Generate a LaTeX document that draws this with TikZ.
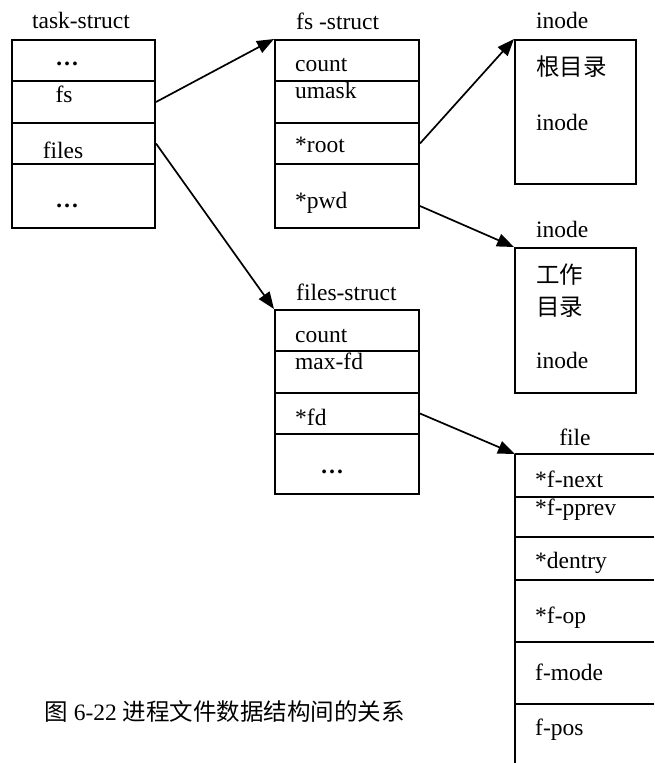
\documentclass[tikz,border=0pt]{standalone}
\usepackage{fontspec}
\setmainfont{Liberation Serif}
\newfontfamily\cjk{Noto Sans CJK SC}
\usetikzlibrary{arrows.meta}
\begin{document}
\begin{tikzpicture}[x=1pt,y=-1pt,
  rowbox/.style={draw, line width=2pt, inner sep=0pt, anchor=north west},
  lbl/.style={inner sep=0pt, anchor=base west, font=\fontsize{23.5}{28}\selectfont},
  clbl/.style={lbl, anchor=base},
  arr/.style={line width=1.7pt, -{Triangle[length=17pt,width=13pt]}},
  fline/.style={line width=2pt}]
\useasboundingbox (0,0) rectangle (654,763);

% task-struct
\node[clbl] (ttitle) at (81,28) {task-struct};
\node[rowbox, minimum width=143pt, minimum height=41pt] (t1) at (11,39) {};
\node[rowbox, minimum width=143pt, minimum height=42pt] (t2) at (11,80) {};
\node[rowbox, minimum width=143pt, minimum height=41pt] (t3) at (11,122) {};
\node[rowbox, minimum width=143pt, minimum height=64pt] (t4) at (11,163) {};
\node[clbl] (tdots1) at (67,65) {\textbf{…}};
\node[clbl] (tfs) at (64,102) {fs};
\node[clbl] (tfiles) at (63,158) {files};
\node[clbl] (tdots2) at (67,207) {\textbf{…}};

% fs-struct
\node[lbl] (ftitle) at (296,29) {fs -struct};
\node[rowbox, minimum width=144pt, minimum height=41pt] (f1) at (274,39) {};
\node[rowbox, minimum width=144pt, minimum height=42pt] (f2) at (274,80) {};
\node[rowbox, minimum width=144pt, minimum height=41pt] (f3) at (274,122) {};
\node[rowbox, minimum width=144pt, minimum height=64pt] (f4) at (274,163) {};
\node[lbl] (fcount) at (295,71) {count};
\node[lbl] (fumask) at (295,98) {umask};
\node[lbl] (froot) at (295,152) {*root};
\node[lbl] (fpwd) at (295,208) {*pwd};

% inode 1
\node[lbl] (i1title) at (536,28) {inode};
\node[rowbox, minimum width=121pt, minimum height=144pt] (in1) at (514,39) {};
\node[lbl] (i1a) at (536,75) {\cjk 根目录};
\node[lbl] (i1b) at (536,130) {inode};

% inode 2
\node[lbl] (i2title) at (536,237) {inode};
\node[rowbox, minimum width=121pt, minimum height=145pt] (in2) at (514,247) {};
\node[lbl] (i2a) at (536,283) {\cjk 工作};
\node[lbl] (i2b) at (536,315) {\cjk 目录};
\node[lbl] (i2c) at (536,368) {inode};

% files-struct
\node[lbl] (gtitle) at (296,300) {files-struct};
\node[rowbox, minimum width=144pt, minimum height=41pt] (g1) at (274,309) {};
\node[rowbox, minimum width=144pt, minimum height=42pt] (g2) at (274,350) {};
\node[rowbox, minimum width=144pt, minimum height=41pt] (g3) at (274,392) {};
\node[rowbox, minimum width=144pt, minimum height=60pt] (g4) at (274,433) {};
\node[lbl] (gcount) at (295,342) {count};
\node[lbl] (gmax) at (295,369) {max-fd};
\node[lbl] (gfd) at (295,425) {*fd};
\node[clbl] (gdots) at (332,473) {\textbf{…}};

% file (cut off at right and bottom)
\node[clbl] (etitle) at (575,445) {file};
\coordinate (filebox) at (515,454);
\coordinate (fileright) at (654,454);
\coordinate (filebottom) at (515,763);
\draw[fline] (filebox) -- (fileright);
\draw[fline] (filebox) -- (filebottom);
\foreach \yy in {497,537,580,642,704} \draw[fline] (515,\yy) -- (654,\yy);
\node[lbl] (e1) at (535,487) {*f-next};
\node[lbl] (e2) at (535,515) {*f-pprev};
\node[lbl] (e3) at (535,568) {*dentry};
\node[lbl] (e4) at (535,623) {*f-op};
\node[lbl] (e5) at (535,680) {f-mode};
\node[lbl] (e6) at (535,735) {f-pos};

% caption
\node[lbl, anchor=base east] (cap) at (405,720) {{\cjk 图} 6-22 {\cjk 进程文件数据结构间的关系}};

% connectors
\draw[arr] (t2.east) -- (f1.north west);
\draw[arr] (t3.east) -- (g1.north west);
\draw[arr] (f3.east) -- (in1.north west);
\draw[arr] ([yshift=-10pt]f4.east) -- (in2.north west);
\draw[arr] (g3.east) -- (filebox);
\end{tikzpicture}
\end{document}
